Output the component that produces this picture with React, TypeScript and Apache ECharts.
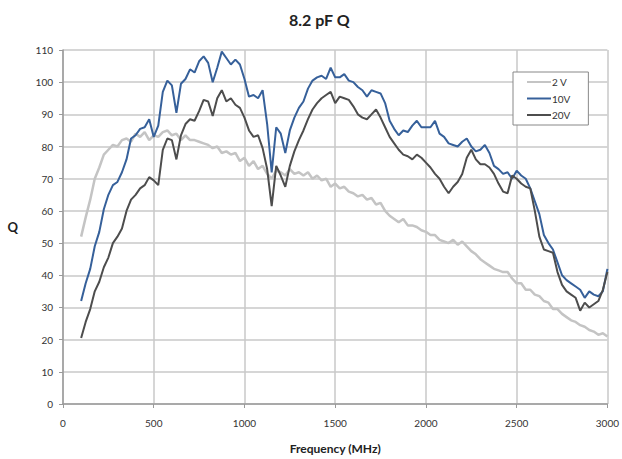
import React, { useEffect, useRef } from "react";
import * as echarts from "echarts";

const TITLE = "8.2 pF Q";
const X_NAME = "Frequency (MHz)";
const Y_NAME = "Q";
const SERIES_NAMES = ["2 V", "10V", "20V"];

// Frequency samples (MHz)
const freqMHz = [
  100, 125, 150, 175, 200, 225, 250, 275, 300, 325,
  350, 375, 400, 425, 450, 475, 500, 525, 550, 575,
  600, 625, 650, 675, 700, 725, 750, 775, 800, 825,
  850, 875, 900, 925, 950, 975, 1000, 1025, 1050, 1075,
  1100, 1125, 1150, 1175, 1200, 1225, 1250, 1275, 1300, 1325,
  1350, 1375, 1400, 1425, 1450, 1475, 1500, 1525, 1550, 1575,
  1600, 1625, 1650, 1675, 1700, 1725, 1750, 1775, 1800, 1825,
  1850, 1875, 1900, 1925, 1950, 1975, 2000, 2025, 2050, 2075,
  2100, 2125, 2150, 2175, 2200, 2225, 2250, 2275, 2300, 2325,
  2350, 2375, 2400, 2425, 2450, 2475, 2500, 2525, 2550, 2575,
  2600, 2625, 2650, 2675, 2700, 2725, 2750, 2775, 2800, 2825,
  2850, 2875, 2900, 2925, 2950, 2975, 3000,
];

const q2V = [
  52, 58, 63.5, 70, 73.5, 77.5, 79, 80.5, 80, 82,
  82.5, 81.5, 84, 83, 84.5, 82, 83.5, 83, 84.5, 85,
  83.5, 84, 82, 83.5, 82, 82, 81.5, 81, 80.5, 79.5,
  80, 78, 78.5, 77.5, 78, 75.5, 76.5, 74, 75.5, 73,
  74, 71.5, 70, 72.5, 72, 71, 73, 71.5, 72, 71,
  72, 70, 71, 69.5, 70, 67.5, 68.5, 67, 67.5, 66,
  65.5, 64.5, 65, 63.5, 64, 62, 62.5, 60, 58.5, 57.5,
  56.5, 57.5, 55.5, 55.5, 55, 54, 53.5, 52.5, 52.5, 51,
  50.5, 50, 51, 49.5, 50.5, 49, 47.5, 46.5, 45, 44,
  43, 42, 41.5, 41, 41, 39, 37.5, 37.5, 35.5, 35.5,
  34, 33.5, 32, 31.5, 29.5, 29.5, 28, 27, 26, 25.5,
  24.5, 24, 23, 22.5, 21.5, 22, 21,
];

const q10V = [
  32, 37.5, 42, 49, 53.5, 60.5, 65, 68, 69, 72,
  76, 82.5, 83.5, 85.5, 86, 88.5, 83, 86.5, 97, 100.5,
  99, 90.5, 99.5, 101, 104, 103, 106.5, 108, 106, 100,
  104.5, 109.5, 107.5, 105.5, 107, 105.5, 101, 95.5, 96, 95,
  97.5, 87, 72, 86, 84, 78, 85, 89, 92, 94,
  98, 100.5, 101.5, 102, 101, 104.5, 101.5, 101.5, 102.5, 100.5,
  100, 98.5, 97.5, 95.5, 97.5, 97, 96.5, 93.5, 88, 85.5,
  83.5, 85, 84.5, 86.5, 88, 86, 86, 86, 88, 84,
  83, 81, 80.5, 80, 81.5, 82.5, 80, 78.5, 79, 80.5,
  78, 74, 73, 71.5, 72, 70, 72.5, 71, 70, 67,
  63, 59, 52.5, 50, 48, 44, 40, 38.5, 37.5, 36.5,
  35.5, 33, 35, 34, 33.5, 35, 42,
];

const q20V = [
  20.5, 25.5, 29.5, 35, 38, 42.5, 45.5, 50, 52, 54.5,
  60, 63.5, 65, 67, 68, 70.5, 69.5, 68, 79, 82.5,
  82, 76, 83.5, 87, 88.5, 88, 91, 94.5, 94, 89.5,
  95, 97.5, 94, 95, 93, 92, 89, 85, 83, 83.5,
  79.5, 73, 61.5, 74, 71, 67.5, 74, 78.5, 82, 85,
  88.5, 91.5, 93.5, 95, 96, 97, 93.5, 95.5, 95, 94.5,
  92.5, 90, 89, 88.5, 90, 91.5, 89, 86, 83, 81,
  79, 77.5, 77, 76, 77.5, 76.5, 75, 73.5, 71.5, 70,
  67.5, 65.5, 67.5, 69, 71.5, 76.5, 79, 76, 74.5, 74.5,
  73.5, 71.5, 68.5, 66, 65.5, 71, 70, 68.5, 67.5, 67,
  60, 52, 48, 47.5, 47, 41, 37, 35, 34, 33,
  29, 31.5, 30, 31, 32, 35.5, 41,
];

const COLORS = ["#c4c4c4", "#36609a", "#4d4d4d"];
const FONT = "Lato, 'Open Sans', sans-serif";

export default function App() {
  const ref = useRef<HTMLDivElement>(null);
  useEffect(() => {
    if (!ref.current) return;
    const chart = echarts.init(ref.current, undefined, { renderer: "svg" });
    const seriesValues = [q2V, q10V, q20V];
    chart.setOption({
      animation: false,
      backgroundColor: "#ffffff",
      title: {
        text: TITLE,
        left: 284,
        top: 6,
        textStyle: { fontFamily: FONT, fontSize: 16, fontWeight: "bold", color: "#222" },
      },
      legend: {
        orient: "vertical",
        left: 513,
        top: 72,
        icon: "rect",
        itemWidth: 24,
        itemHeight: 2,
        itemGap: 4.5,
        padding: [4, 18, 4, 14],
        borderColor: "#888",
        borderWidth: 1,
        backgroundColor: "#fff",
        textStyle: { fontFamily: FONT, fontSize: 10, color: "#333", lineHeight: 12, padding: [0, 0, 0, -4] },
        data: SERIES_NAMES,
      },
      grid: { left: 63, right: 10, top: 50, bottom: 47, containLabel: false },
      xAxis: {
        type: "value",
        min: 0,
        max: 3000,
        interval: 500,
        name: X_NAME,
        nameLocation: "middle",
        nameGap: 38,
        nameTextStyle: { fontFamily: FONT, fontSize: 12, fontWeight: "bold", color: "#222" },
        axisLine: { lineStyle: { color: "#9a9a9a", width: 1.5 } },
        axisTick: { show: true, length: 4, lineStyle: { color: "#9a9a9a" } },
        axisLabel: { fontFamily: FONT, fontSize: 10, color: "#333", margin: 14, formatter: (v: number) => String(v) },
        splitLine: { show: true, lineStyle: { color: "#c8c8c8", width: 1.5 } },
      },
      yAxis: {
        type: "value",
        min: 0,
        max: 110,
        interval: 10,
        name: Y_NAME,
        nameLocation: "middle",
        nameRotate: 0,
        nameGap: 45,
        nameTextStyle: { fontFamily: FONT, fontSize: 13, fontWeight: "bold", color: "#222" },
        axisLine: { show: true, lineStyle: { color: "#9a9a9a", width: 1.5 } },
        axisTick: { show: true, length: 4, lineStyle: { color: "#9a9a9a" } },
        axisLabel: { fontFamily: FONT, fontSize: 10, color: "#333", margin: 10 },
        splitLine: { show: true, lineStyle: { color: "#c8c8c8", width: 1.5 } },
      },
      series: SERIES_NAMES.map((name, i) => ({
        name,
        type: "line",
        symbol: "none",
        showSymbol: false,
        color: COLORS[i],
        lineStyle: { color: COLORS[i], width: i === 0 ? 2.5 : 2 },
        data: freqMHz.map((f, j) => [f, seriesValues[i][j]]),
      })),
    });
    return () => chart.dispose();
  }, []);
  return (
    <div
      ref={ref}
      style={{ position: "fixed", left: 0, top: 0, width: 622, height: 459 }}
    />
  );
}
